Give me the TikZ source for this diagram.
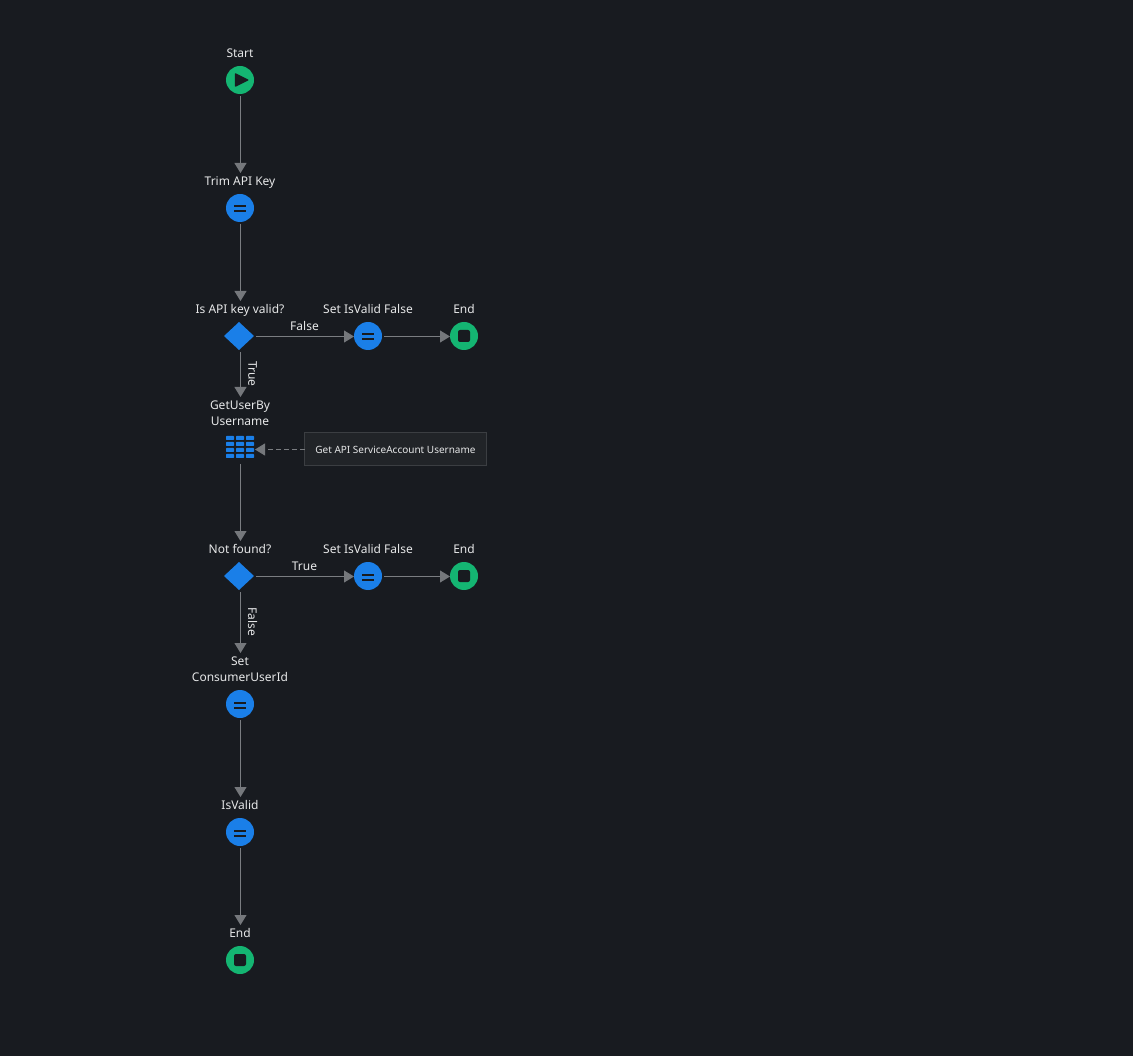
\documentclass[tikz,border=0pt]{standalone}
\usepackage{fontspec}
\setmainfont{Noto Sans}
\usetikzlibrary{shapes.geometric,arrows.meta}
\definecolor{bgc}{HTML}{181B20}
\definecolor{bluec}{HTML}{1A7FE8}
\definecolor{greenc}{HTML}{14B572}
\definecolor{linec}{HTML}{7A7D81}
\definecolor{tipc}{HTML}{75787C}
\definecolor{textc}{HTML}{E6E7E8}
\definecolor{boxc}{HTML}{212428}
\definecolor{boxl}{HTML}{3B3E42}
\tikzset{
  x=1pt,y=-1pt,
  base/.style={inner sep=0pt,outer sep=0pt,text=textc},
  lab/.style={base,align=center,font=\fontsize{12}{16}\selectfont,minimum height=16pt,text height=8.7pt,text depth=0pt},
  lab2/.style={base,align=center,font=\fontsize{12}{16}\selectfont,minimum height=32pt},
  edgelab/.style={base,font=\fontsize{12}{16}\selectfont},
  startnode/.style={circle,fill=greenc,minimum size=28pt,inner sep=0pt,outer sep=0pt,
    path picture={\fill[bgc,rounded corners=1pt] ([xshift=-5.2pt,yshift=7.2pt]path picture bounding box.center) -- ([xshift=9.2pt]path picture bounding box.center) -- ([xshift=-5.2pt,yshift=-7.2pt]path picture bounding box.center) -- cycle;}},
  endnode/.style={circle,fill=greenc,minimum size=28pt,inner sep=0pt,outer sep=0pt,
    path picture={\fill[bgc,rounded corners=2pt] ([xshift=-6pt,yshift=-6pt]path picture bounding box.center) rectangle ([xshift=6pt,yshift=6pt]path picture bounding box.center);}},
  assign/.style={circle,fill=bluec,minimum size=28pt,inner sep=0pt,outer sep=0pt,
    path picture={\fill[bgc] ([xshift=-6pt,yshift=.5pt]path picture bounding box.center) rectangle ([xshift=6pt,yshift=2.5pt]path picture bounding box.center);
    \fill[bgc] ([xshift=-6pt,yshift=-2.5pt]path picture bounding box.center) rectangle ([xshift=6pt,yshift=-4.5pt]path picture bounding box.center);}},
  decision/.style={diamond,fill=bluec,minimum width=30pt,minimum height=28pt,inner sep=0pt,outer sep=0pt,aspect=1.07},
  tablenode/.style={minimum width=28pt,minimum height=22pt,inner sep=0pt,outer sep=0pt},
  cellc/.style={fill=bluec},
  commentbox/.style={base,draw=boxl,fill=boxc,line width=1pt,minimum width=182pt,minimum height=33pt,font=\fontsize{10}{13}\selectfont},
  conn/.style={draw=linec,line width=1pt,-{Triangle[width=12pt,length=10pt,fill=tipc,color=tipc]}},
  dashconn/.style={conn,dash pattern=on 5pt off 3pt},
}
\begin{document}
\begin{tikzpicture}
\useasboundingbox (0,0) rectangle (1133,1056);
\fill[bgc] (0,0) rectangle (1133,1056);
% labels
\node[lab] (lstart) at (240,53) {Start};
\node[lab] (ltrim) at (240,181) {Trim API Key};
\node[lab] (lvalid) at (240,309) {Is API key valid?};
\node[lab] (lset1) at (368,309) {Set IsValid False};
\node[lab] (lend1) at (464,309) {End};
\node[lab2] (lget) at (240,413) {GetUserBy\\Username};
\node[lab] (lnf) at (240,549) {Not found?};
\node[lab] (lset2) at (368,549) {Set IsValid False};
\node[lab] (lend2) at (464,549) {End};
\node[lab2] (lcons) at (240,669) {Set\\ConsumerUserId};
\node[lab] (lisv) at (240,805) {IsValid};
\node[lab] (lend3) at (240,933) {End};
% nodes
\node[startnode] (start) at (240,80) {};
\node[assign] (trim) at (240,208) {};
\node[decision] (valid) at (239,336) {};
\node[assign] (set1) at (368,336) {};
\node[endnode] (end1) at (464,336) {};
\node[tablenode] (get) at (240,447) {};
\foreach \cx in {226,236,246}{\foreach \cy in {436,442,448,454}{
  \fill[cellc,rounded corners=.7pt] (\cx,\cy) rectangle ++(8,4);}}
\node[commentbox] (note) at (395.5,449.5) {Get API ServiceAccount Username};
\node[decision] (nf) at (239,576) {};
\node[assign] (set2) at (368,576) {};
\node[endnode] (end2) at (464,576) {};
\node[assign] (cons) at (240,704) {};
\node[assign] (isv) at (240,832) {};
\node[endnode] (end3) at (240,960) {};
% connectors
\draw[conn,shorten <=2pt] ([xshift=.5pt]start.south) -- ([xshift=.5pt]ltrim.north);
\draw[conn,shorten <=2pt] ([xshift=.5pt]trim.south) -- ([xshift=.5pt]lvalid.north);
\draw[conn,shorten <=2pt] ([yshift=-.5pt]valid.east) -- ([yshift=-.5pt]set1.west);
\draw[conn,shorten <=2pt] ([yshift=-.5pt]set1.east) -- ([yshift=-.5pt]end1.west);
\draw[conn,shorten <=2pt] ([xshift=1.5pt]valid.south) -- ([xshift=.5pt]lget.north);
\draw[dashconn] (note.west) -- ([xshift=1pt]get.east |- note.west);
\draw[conn,shorten <=6pt] ([xshift=.5pt]get.south) -- ([xshift=.5pt]lnf.north);
\draw[conn,shorten <=2pt] ([yshift=-.5pt]nf.east) -- ([yshift=-.5pt]set2.west);
\draw[conn,shorten <=2pt] ([yshift=-.5pt]set2.east) -- ([yshift=-.5pt]end2.west);
\draw[conn,shorten <=2pt] ([xshift=1.5pt]nf.south) -- ([xshift=.5pt]lcons.north);
\draw[conn,shorten <=2pt] ([xshift=.5pt]cons.south) -- ([xshift=.5pt]lisv.north);
\draw[conn,shorten <=2pt] ([xshift=.5pt]isv.south) -- ([xshift=.5pt]lend3.north);
% edge labels
\node[edgelab] (efalse1) at (304.5,326) {False};
\node[edgelab,rotate=-90] (etrue1) at (252.5,374) {True};
\node[edgelab] (etrue2) at (304.5,566) {True};
\node[edgelab,rotate=-90] (efalse2) at (252.5,622) {False};
\end{tikzpicture}
\end{document}
